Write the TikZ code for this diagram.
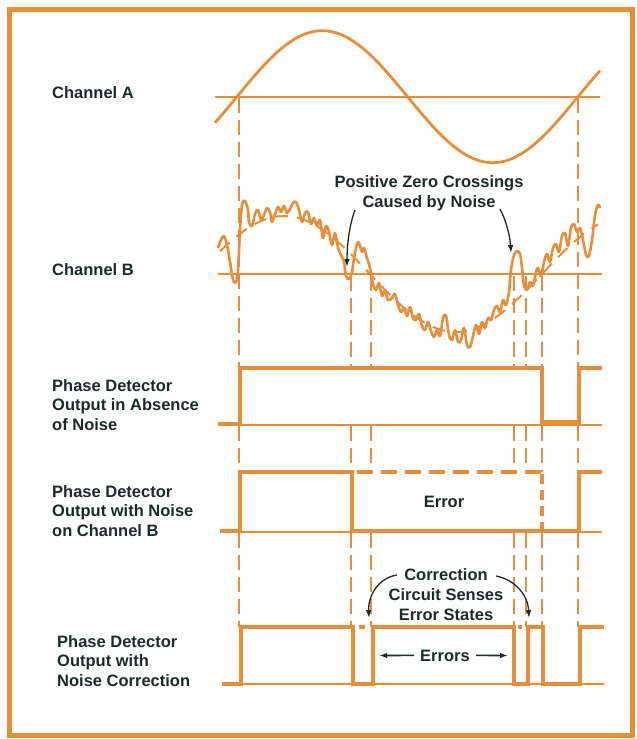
\documentclass[tikz,border=0pt]{standalone}
\usepackage{fontspec}
\setmainfont{Liberation Sans}
\usetikzlibrary{arrows.meta}
\definecolor{org}{RGB}{232,142,58}
\definecolor{ink}{RGB}{30,42,42}
\begin{document}
\begin{tikzpicture}[x=1pt,y=-1pt,
  lbl/.style={font=\bfseries\fontsize{16.5}{19.5}\selectfont, text=ink, inner sep=0pt, align=left},
  ann/.style={font=\bfseries\fontsize{16.5}{20}\selectfont, text=ink, inner sep=0pt, align=center},
  axisline/.style={org, line width=1.8pt},
  sig/.style={org, line width=4pt, line join=miter},
  guide/.style={org, line width=1.8pt, dash pattern=on 15pt off 7pt},
  pointer/.style={ink, line width=1.3pt, -{Latex[length=8pt,width=5.5pt]}},
]
\fill[white] (0,0) rectangle (637,739);
\useasboundingbox (0,0) rectangle (637,739);
\draw[org, line width=5pt] (9,9) rectangle (632,735);

% ---- labels
\node[lbl, anchor=base west] (la) at (52,98) {Channel A};
\node[lbl, anchor=base west] (lb) at (52,275) {Channel B};
\node[lbl, anchor=north west] (l3) at (52,379) {Phase Detector\\Output in Absence\\of Noise};
\node[lbl, anchor=north west] (l4) at (52,485) {Phase Detector\\Output with Noise\\on Channel B};
\node[lbl, anchor=north west] (l5) at (57,635) {Phase Detector\\Output with\\Noise Correction};

% ---- guides (dashed verticals)
\foreach \gx/\gy in {239/98, 578/98, 351/276, 371/276, 514/276, 526/276, 542/276}{
  \draw[guide] (\gx,\gy) -- (\gx,368);
  \draw[guide] (\gx,426) -- (\gx,472);
  \draw[guide] (\gx,533) -- (\gx,627);
}

% ---- Channel A
\draw[axisline] (215,96.7) -- (600,96.7);
\draw[org, line width=2.8pt] plot[domain=215:600, samples=160, smooth]
  (\x, {96.7 - 66*sin((\x-237)*1.05572)});

% ---- Channel B
\draw[axisline] (218,274) -- (602,274);
\draw[org, line width=2pt, dash pattern=on 13pt off 9pt] plot[domain=220:598, samples=120, smooth]
  (\x, {274 - 58*sin((\x-198)*1.04651)});
\draw[org, line width=2.6pt, line join=round] plot[smooth, tension=0.55] coordinates {
(218,248) (221,240) (224,236) (227,245) (230,262) (233,280) (236,282) (238,270) (240,230) (242,205)
(245,201) (248,210) (249,222) (252,226) (255,214) (258,210) (261,220) (264,215) (267,208) (270,212)
(272,222) (275,214) (278,207) (281,212) (284,206) (287,213) (290,209) (293,203) (296,202) (299,210)
(302,222) (305,213) (308,212) (311,224) (314,218) (317,226) (320,220) (323,238) (326,226) (329,232)
(332,245) (335,233) (338,248) (341,255) (344,262) (346,276) (349,279) (352,272) (354,258) (357,244)
(359,243) (362,252) (364,248) (367,258) (370,268) (373,284) (376,290) (379,283) (382,296) (385,290)
(388,300) (392,298) (395,294) (398,305) (401,312) (404,308) (407,316) (410,307) (413,318) (416,320)
(419,314) (422,326) (425,330) (428,322) (431,331) (434,337) (437,330) (440,336) (443,318) (446,316)
(449,335) (452,340) (455,330) (458,342) (461,340) (464,328) (467,345) (470,347) (473,336) (476,325)
(479,334) (482,322) (485,328) (488,318) (491,320) (494,310) (497,306) (500,312) (503,300) (506,305)
(509,292) (511,270) (514,255) (517,251) (520,254) (522,268) (524,285) (527,290) (530,282) (533,286)
(536,272) (538,268) (541,276) (544,262) (547,254) (550,262) (553,248) (556,244) (559,252) (562,236)
(565,233) (568,246) (571,228) (574,224) (577,232) (580,228) (583,240) (586,255) (589,256) (592,240)
(595,215) (598,205) (600,208)};

\node[ann, anchor=north] (pzc) at (429,175) {Positive Zero Crossings\\Caused by Noise};
\coordinate (p1s) at (355,210);
\coordinate (p1e) at (347,267);
\coordinate (p2s) at (500,209);
\coordinate (p2e) at (511,253);
\draw[pointer] (p1s) .. controls (349,226) and (347,246) .. (p1e);
\draw[pointer] (p2s) .. controls (506,220) and (510,236) .. (p2e);

% ---- Row 3: absence of noise
\draw[axisline] (218,425) -- (602,425);
\draw[sig] (218,424) -- (240,424) -- (240,368) -- (542,368) -- (542,422) -- (579,422) -- (579,368) -- (602,368);

% ---- Row 4: noise on channel B
\draw[axisline] (220,532) -- (602,532);
\draw[sig] (220,531) -- (240,531) -- (240,472) -- (352,472) -- (352,531) -- (579,531) -- (579,472) -- (602,472);
\draw[sig, dash pattern=on 16pt off 8pt] (357,472) -- (542,472);
\draw[sig, dash pattern=on 10pt off 6pt] (542,474) -- (542,529);
\node[ann, anchor=base] (err) at (444,507) {Error};

% ---- Row 5: noise correction
\draw[axisline] (222,684) -- (604,684);
\draw[sig] (222,684) -- (241,684) -- (241,627) -- (353,627) -- (353,684) -- (373,684) -- (373,627)
  -- (514,627) -- (514,684) -- (528,684) -- (528,627) -- (543,627) -- (543,684) -- (580,684)
  -- (580,627) -- (604,627);
\draw[sig] (359,627) -- (365,627);
\draw[sig] (518,627) -- (522,627);

\node[ann, anchor=north] (corr) at (446,568) {Correction\\Circuit Senses\\Error States};
\coordinate (c1s) at (397,575);
\coordinate (c1e) at (369,618);
\coordinate (c2s) at (496,576);
\coordinate (c2e) at (529,618);
\draw[pointer] (c1s) .. controls (378,578) and (368,596) .. (c1e);
\draw[pointer] (c2s) .. controls (516,580) and (528,596) .. (c2e);

\node[ann, anchor=base] (errs) at (445,661) {Errors};
\coordinate (eL) at (379,655.5);
\coordinate (eR) at (508,655.5);
\draw[pointer, line width=1.6pt] ([xshift=-6pt]errs.west) -- (eL);
\draw[pointer, line width=1.6pt] ([xshift=6pt]errs.east) -- (eR);
\end{tikzpicture}
\end{document}
